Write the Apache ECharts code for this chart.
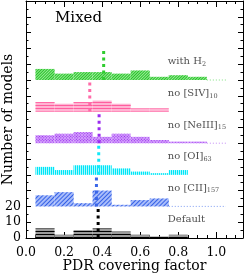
<!DOCTYPE html>
<html><head><meta charset="utf-8">
<script src="https://cdn.jsdelivr.net/npm/echarts@6/dist/echarts.min.js"></script>
<style>html,body{margin:0;padding:0;background:#fff}#c{width:245px;height:279px}</style>
</head><body><div id="c"></div>
<script>
// ---- data ----
const binCenters = [0.1, 0.2, 0.3, 0.4, 0.5, 0.6, 0.7, 0.8, 0.9, 1.0];
const binWidth = 0.1;
const offsetStep = 20;
const countsDefault = [6, 2, 5, 6, 4, 2, 1, 2, 0, 0];
const countsNoCII   = [7, 9, 2, 10, 1, 4, 5, 0, 0, 0];
const countsNoOI    = [5, 3, 6, 6, 4, 2, 1, 3, 0, 0];
const countsNoNeIII = [5, 6, 7, 4, 6, 4, 2, 1, 1, 0];
const countsNoSIV   = [6, 5, 6, 7, 5, 2, 2, 0, 0, 0];
const countsWithH2  = [7, 4, 5, 5, 4, 6, 2, 3, 2, 0];
const medianValues  = [0.379, 0.370, 0.382, 0.384, 0.335, 0.408];
const zeroSpans     = [null, [0.75, 1.05], null, [0.95, 1.05], null, [0.95, 1.05]];
const labelMain     = ['Default', 'no [CII]', 'no [OI]', 'no [NeIII]', 'no [SIV]', 'with H'];
const labelSub      = ['', '157', '63', '15', '10', '2'];
const labelX = 0.745, labelYOffset = 11.5;
const xTickLabels = [0.0, 0.2, 0.4, 0.6, 0.8, 1.0];
const yTickLabels = [0, 10, 20];
const xMin = 0, xMax = 1.14, yMin = 0, yMax = 150;

// ---- style ----
const FONT = 'DejaVu Serif';
const styles = [
  {fill: '#9a9a9a', line: '#000000', rot: 0,            dx: [1, 0], dy: [1, 1.4], med: '#000000', dot: '#555555'},
  {fill: '#a8bcfa', line: '#3561e6', rot: -Math.PI / 4, dx: [1, 0], dy: [1, 1.2], med: '#3a66e8', dot: '#7e9cf2'},
  {fill: '#a6faff', line: '#00e4f6', rot: Math.PI / 2,  dx: [1, 0], dy: [1, 1.0], med: '#12e8f8', dot: '#7ef0f8'},
  {fill: '#d4a0fc', line: '#9426ec', rot: Math.PI / 4,  dx: [1, 1], dy: [1, 1],   med: '#9b2cef', dot: '#c28af5'},
  {fill: '#ffb4d2', line: '#ff5e9f', rot: 0,            dx: [1, 0], dy: [1, 1.2], med: '#ff6aa8', dot: '#ff9ac4'},
  {fill: '#98e898', line: '#26c426', rot: -Math.PI / 4, dx: [1, 0], dy: [1, 1.0], med: '#2fcc2f', dot: '#7ee07e'}
];

const allCounts = [countsDefault, countsNoCII, countsNoOI, countsNoNeIII, countsNoSIV, countsWithH2];
const W = 245, H = 279;
const gridL = 26, gridR = 2, gridT = 1, gridB = 41;
const plotW = W - gridL - gridR, plotH = H - gridT - gridB;
const barPx = plotW / (xMax - xMin) * binWidth;
const bandPx = plotH / (yMax - yMin) * offsetStep;

const grids = [{left: gridL, right: gridR, top: gridT, bottom: gridB, outerBoundsMode: 'none', z: 5}];
const axisLine = {show: true, onZero: false, lineStyle: {color: '#000', width: 1}};
const xCommon = {type: 'value', min: xMin, max: xMax, interval: 0.2, splitLine: {show: false},
  axisLine, axisTick: {inside: true, length: 6, lineStyle: {color: '#000'}},
  minorTick: {show: true, splitNumber: 4, length: 3, lineStyle: {color: '#000'}}};
const yCommon = {type: 'value', min: yMin, max: yMax, interval: 10, splitLine: {show: false},
  axisLine, axisTick: {inside: true, length: 5, lineStyle: {color: '#000'}},
  minorTick: {show: true, splitNumber: 2, length: 2.5, lineStyle: {color: '#000'}}};

const xAxes = [
  Object.assign({}, xCommon, {gridIndex: 0, position: 'bottom',
    name: 'PDR covering factor', nameLocation: 'middle', nameGap: 21, nameMoveOverlap: false,
    nameTextStyle: {fontFamily: FONT, fontSize: 14, color: '#000'},
    axisLabel: {show: true, margin: 8, fontFamily: FONT, fontSize: 12.5, color: '#000', showMaxLabel: false, hideOverlap: false,
      formatter: v => xTickLabels.some(t => Math.abs(t - v) < 1e-6) ? v.toFixed(1) : ''}}),
  Object.assign({}, xCommon, {gridIndex: 0, position: 'top', axisLabel: {show: false}})
];
const yAxes = [
  Object.assign({}, yCommon, {gridIndex: 0, position: 'left',
    name: 'Number of models', nameLocation: 'middle', nameGap: 11, nameMoveOverlap: false,
    nameTextStyle: {fontFamily: FONT, fontSize: 14, color: '#000'},
    axisLabel: {show: true, margin: 5, interval: 0, hideOverlap: false, fontFamily: FONT, fontSize: 12.5, color: '#000',
      formatter: v => yTickLabels.indexOf(v) >= 0 ? String(v) : ''}}),
  Object.assign({}, yCommon, {gridIndex: 0, position: 'right', axisLabel: {show: false}})
];

const series = [];
allCounts.forEach((counts, k) => {
  const st = styles[k];
  const gi = k + 1;
  grids.push({left: gridL, right: gridR, bottom: gridB + k * bandPx, height: bandPx, outerBoundsMode: 'none'});
  xAxes.push({type: 'value', gridIndex: gi, min: xMin, max: xMax, show: false});
  yAxes.push({type: 'value', gridIndex: gi, min: 0, max: offsetStep, show: false});
  series.push({
    type: 'bar', xAxisIndex: xAxes.length - 1, yAxisIndex: yAxes.length - 1,
    barWidth: barPx, silent: true,
    data: binCenters.map((x, i) => [x, counts[i]]),
    itemStyle: {color: st.fill, decal: {symbol: 'rect', symbolSize: 1, dashArrayX: st.dx, dashArrayY: st.dy, rotation: st.rot, color: st.line}}
  });
});
allCounts.forEach((counts, k) => {
  const st = styles[k];
  const base = k * offsetStep;
  if (zeroSpans[k]) {
    series.push({type: 'line', xAxisIndex: 0, yAxisIndex: 0, symbol: 'none', silent: true, z: 3,
      data: [[zeroSpans[k][0], base], [zeroSpans[k][1], base]],
      lineStyle: {color: st.dot, width: 1, type: [1, 2]}});
  }
  series.push({type: 'line', xAxisIndex: 0, yAxisIndex: 0, symbol: 'none', silent: true, z: 4,
    data: [[medianValues[k], base], [medianValues[k], base + offsetStep]],
    lineStyle: {color: st.med, width: 3, type: [3, 3.5]}});
});
series.push({
  type: 'scatter', xAxisIndex: 0, yAxisIndex: 0, symbolSize: 0, silent: true, z: 5,
  data: labelMain.map((t, k) => ({value: [labelX, k * offsetStep + labelYOffset], k})),
  label: {
    show: true, position: 'right', distance: 0,
    formatter: p => '{m|' + labelMain[p.data.k] + '}' + (labelSub[p.data.k] ? '{s|' + labelSub[p.data.k] + '}' : ''),
    rich: {
      m: {fontFamily: FONT, fontSize: 10, color: '#222', lineHeight: 12},
      s: {fontFamily: FONT, fontSize: 6.5, color: '#222', lineHeight: 6, verticalAlign: 'bottom'}
    }
  }
});

const chart = echarts.init(document.getElementById('c'), null, {renderer: 'canvas'});
chart.setOption({
  animation: false,
  backgroundColor: '#fff',
  title: {text: 'Mixed', left: 50, top: 6, textStyle: {fontFamily: FONT, fontSize: 15, fontWeight: 'normal', color: '#000'}},
  grid: grids,
  xAxis: xAxes,
  yAxis: yAxes,
  series
});
</script></body></html>
